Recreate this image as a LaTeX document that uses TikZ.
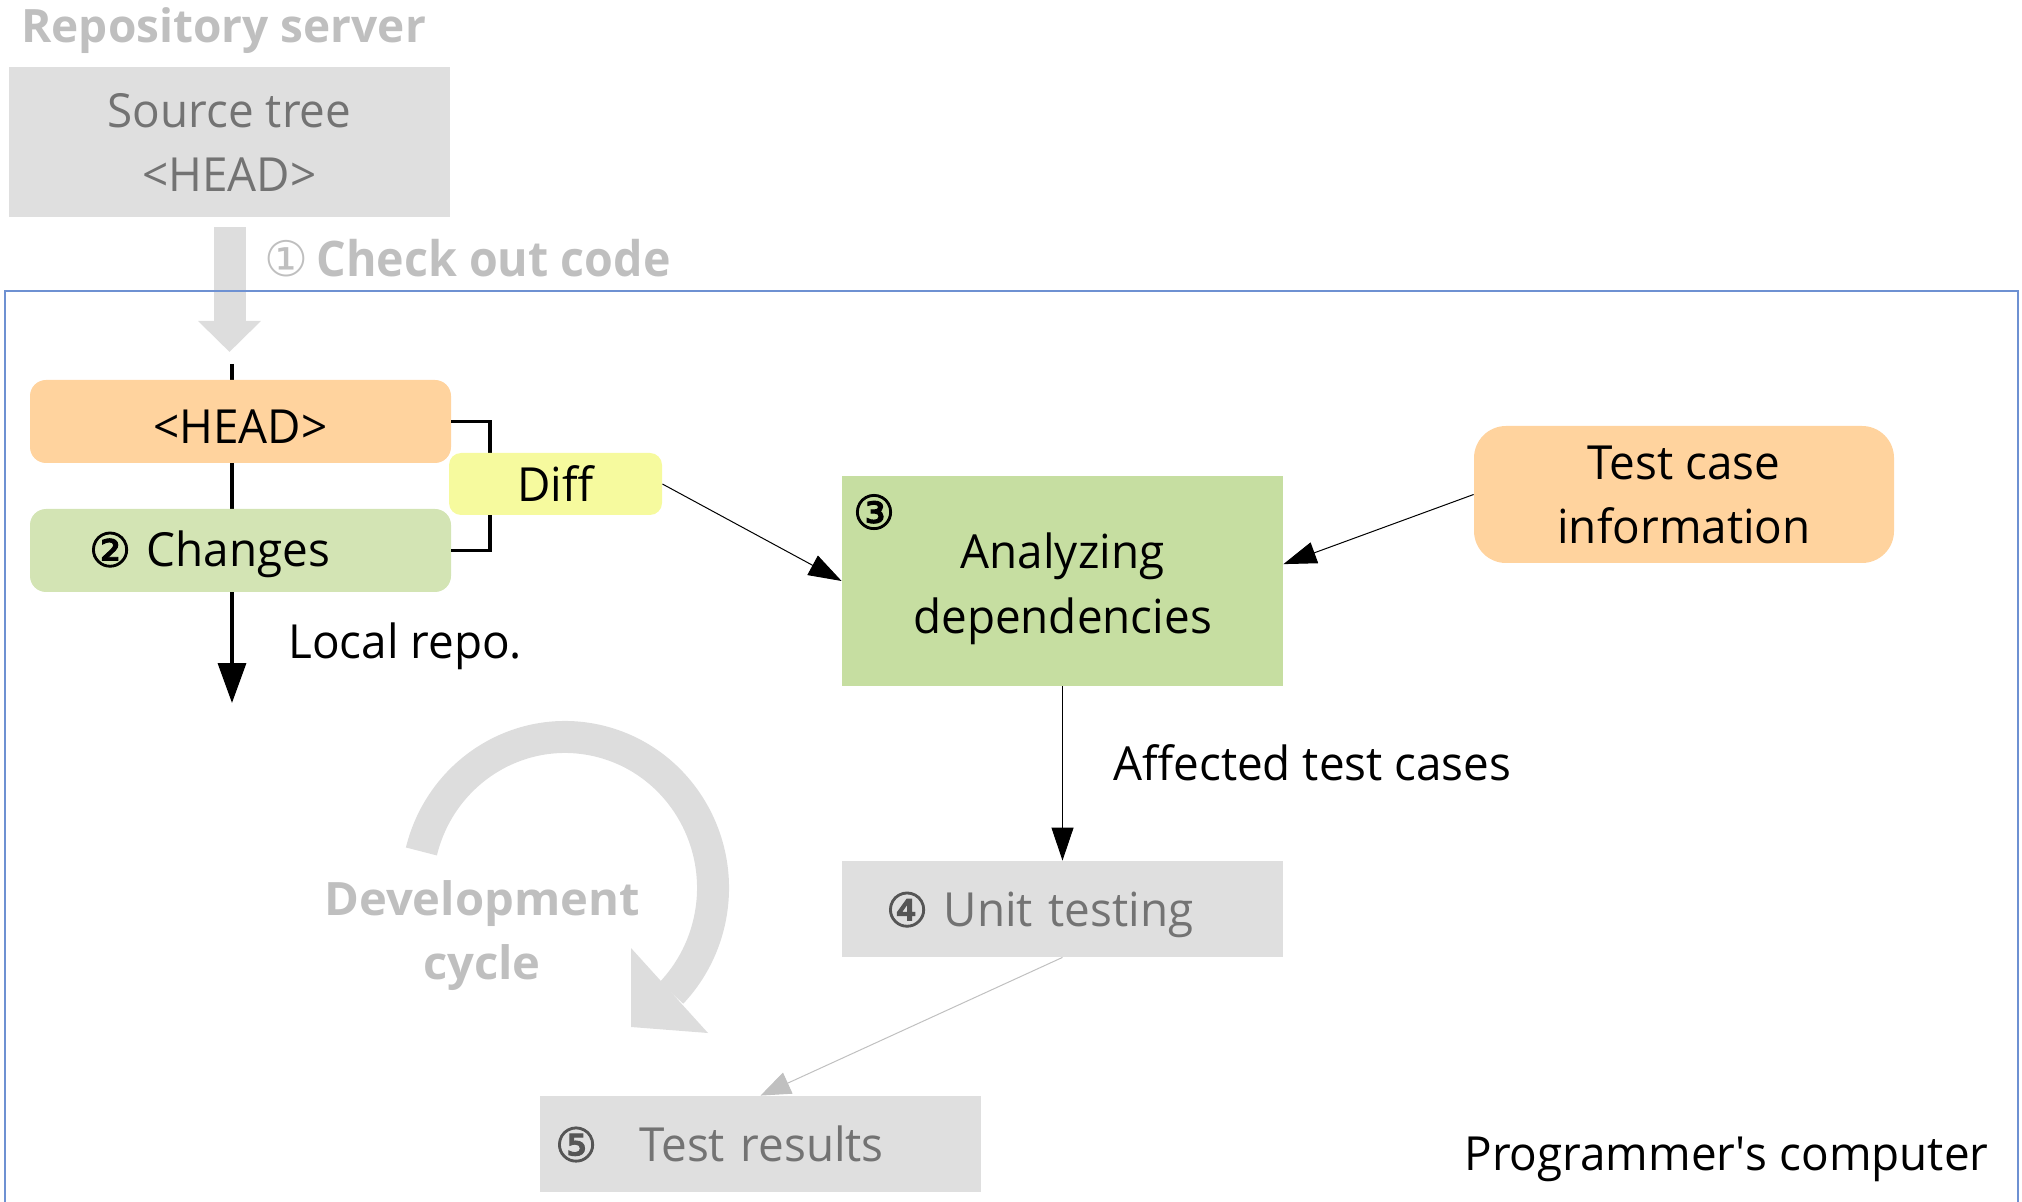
\documentclass[tikz,border=0pt]{standalone}
\usepackage{fontspec}
\setmainfont{Open Sans}[FakeStretch=0.975]
\newfontfamily\narrowbold{Open Sans}[FakeStretch=0.95]
\newfontfamily\plainbold{Open Sans}
\newfontfamily\widebold{Open Sans}[FakeStretch=1.025]
\newfontfamily\circfont{DejaVu Sans}
\newfontfamily\circbold{DejaVu Sans}[FakeBold=2]
\usetikzlibrary{arrows.meta,calc}

\definecolor{boxgray}{RGB}{223,223,223}
\definecolor{txtgray}{RGB}{115,115,115}
\definecolor{numgray}{RGB}{85,85,85}
\definecolor{softgray}{RGB}{191,191,191}
\definecolor{arrowgray}{RGB}{221,221,221}
\definecolor{linkgray}{RGB}{192,192,192}
\definecolor{peach}{RGB}{255,211,158}
\definecolor{palegreen}{RGB}{211,228,180}
\definecolor{leafgreen}{RGB}{198,222,161}
\definecolor{paleyellow}{RGB}{246,250,158}
\definecolor{frameblue}{RGB}{110,145,210}

\newcommand\mainsz{\fontsize{23.5}{32}\selectfont}
\newcommand\headsz{\fontsize{23}{32}\widebold\bfseries}
% lower a one-line label inside its box without changing the box
\newcommand\lowered[2]{\raisebox{-#1}[\height][\depth]{#2}}

\tikzset{
  box/.style={inner sep=0pt, align=center, font=\mainsz},
  graybox/.style={box, fill=boxgray, text=txtgray},
  peachbox/.style={box, fill=peach, rounded corners=8pt},
  greenbox/.style={box, fill=palegreen, rounded corners=8pt},
  link/.style={line width=0.5pt, -{Triangle[length=16.5pt,width=11pt]}},
  heavy/.style={line width=1.75pt},
  caption/.style={inner sep=0pt, font=\mainsz},
}

\begin{document}
\begin{tikzpicture}[x=0.5pt,y=-0.5pt]
\useasboundingbox (0,0) rectangle (2022,1202);
\clip (0,0) rectangle (2022,1202);

% repository server
\node[inner sep=0pt, anchor=base west, text=softgray, font=\fontsize{23}{32}\plainbold\bfseries] (repo) at (21,43) {Repository server};
\node[graybox, minimum width=220.5pt, minimum height=75pt] (src) at (229.5,142) {Source tree\\<HEAD>};

% check-out arrow
\coordinate (coTip) at (229.5,352);
\draw[arrowgray, line width=16pt, -{Triangle[length=15.5pt,width=30.5pt]}] ([yshift=-5pt]src.south) -- (coTip);
\node[inner sep=0pt, anchor=base west, text=softgray, font=\fontsize{24.5}{32}\narrowbold\bfseries] (co) at (264,277) {{\circfont\mdseries ①}\,Check out code};

% programmer's computer frame
\draw[frameblue, line width=0.6pt] (5,291) rectangle (2018,1240);
\node[caption, anchor=base west] (pc) at (1464,1170) {Programmer\textquotesingle s computer};

% local repository line
\coordinate (lrtop) at (232,364);
\coordinate (lrend) at (232,703);
\draw[heavy, -{Triangle[length=20pt,width=14pt]}] (lrtop) -- (lrend);
\node[caption, anchor=base west] (lr) at (288,658) {Local repo.};

\node[peachbox, minimum width=210.5pt, minimum height=41.5pt] (head) at (240.5,421.5) {\lowered{2.5pt}{<HEAD>}};
\node[greenbox, minimum height=41.5pt, text width=151.5pt, inner xsep=29.5pt, align=left] (chg) at (240.5,550.5) {\lowered{2pt}{{\circbold ②}\ Changes}};

% diff bracket
\coordinate (brk) at (490,486);
\draw[heavy] (head.east) -| (brk) |- (chg.east);
\node[box, fill=paleyellow, rounded corners=6pt, minimum width=106.5pt, minimum height=31pt] (diff) at (555.5,484) {Diff};

% dependency analysis
\node[box, fill=leafgreen, minimum width=220.5pt, minimum height=105pt, font=\fontsize{23.5}{32.5}\selectfont] (ana) at (1062.5,581) {\rule{0pt}{26pt}Analyzing\\dependencies};
\node[inner sep=0pt, font=\mainsz] (n3) at (874,512) {\circbold ③};
\node[box, fill=peach, rounded corners=16pt, minimum width=210pt, minimum height=68.5pt] (tc) at (1684,494.5) {Test case\\information};

\draw[link] (diff.east) -- (ana.west);
\draw[link] (tc.west) -- ($(ana.north east)!0.42!(ana.south east)$);

% testing
\node[graybox, minimum height=48pt, text width=176.5pt, inner xsep=22pt, align=left] (unit) at (1062.5,909) {\lowered{3pt}{{\circbold\color{numgray}④} Unit testing}};
\node[graybox, minimum height=48pt, text width=205.5pt, inner xsep=7.5pt, align=left] (res) at (760.5,1144) {{\circbold\color{numgray}⑤}\hspace{21pt}Test results};

\draw[link] (ana.south) -- (unit.north);
\node[caption, anchor=base west] (aff) at (1113,780) {Affected test cases};
\draw[linkgray, line width=0.5pt, -{Triangle[length=15pt,width=11.5pt]}] (unit.south) -- (res.north);

% development cycle
\coordinate (cyc) at (565,888);
\draw[arrowgray, line width=16pt] ($(cyc)+(194:148 and 151)$) arc[start angle=194, end angle=404, x radius=148, y radius=151];
\fill[arrowgray] (631,948) -- (708,1033) -- (631,1027) -- cycle;
\node[inner sep=0pt, align=center, text=softgray, font=\headsz] (dev) at (482,936) {Development\\cycle};
\end{tikzpicture}
\end{document}
